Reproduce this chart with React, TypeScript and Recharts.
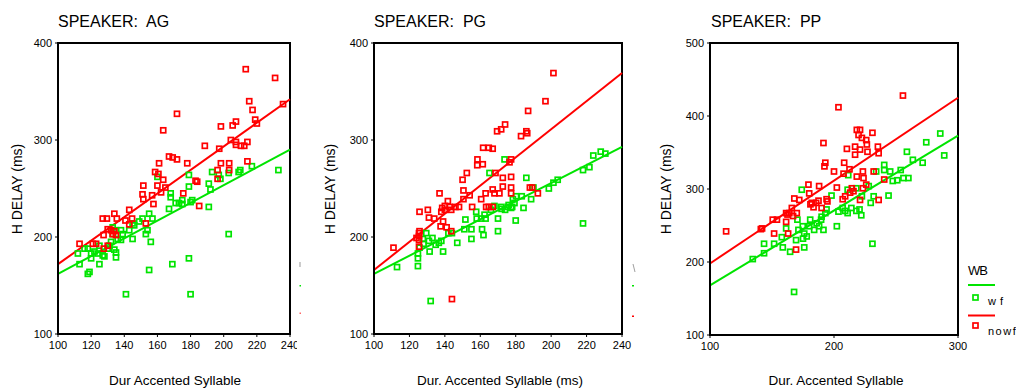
import React from "react";
import { ScatterChart, Scatter, XAxis, YAxis, ReferenceLine, ReferenceArea } from "recharts";

const FONT = '"Liberation Sans", Arial, Helvetica, sans-serif';
const RED = "#ff0000";
const GREEN = "#00e400";

// Panel titles / labels
const titles = ["SPEAKER:  AG", "SPEAKER:  PG", "SPEAKER:  PP"];
const xLabels = ["Dur Accented Syllable", "Dur. Accented Syllable (ms)", "Dur. Accented Syllable"];
const yLabel = "H DELAY (ms)";
const legendTitle = "WB";
const legendNames = ["w f", "nowf"];

// Tick values
const xTicksAP = [100, 120, 140, 160, 180, 200, 220, 240];
const yTicksAP = [100, 200, 300, 400];
const xTicksPP = [100, 200, 300];
const yTicksPP = [100, 200, 300, 400, 500];

// Speaker AG
const agWf: number[][] = [
  [112,183],[113,172],[118,188],[118,162],[119,164],[120,183],[120,178],[125,191],[125,172],[127,181],
  [130,188],[131,191],[133,203],[134,187],[135,179],[135,207],[136,198],[138,197],[139,203],[143,207],
  [145,214],[145,198],[149,216],[151,219],[153,203],[154,207],[156,195],[155,224],[157,219],[155,166],
  [141,141],[160,262],[167,229],[168,245],[168,241],[169,172],[171,235],[173,235],[175,238],[175,234],
  [179,264],[179,252],[180,236],[181,238],[179,178],[180,141],[191,231],[191,255],[192,249],[193,267],
  [198,260],[197,264],[203,203],[203,266],[209,267],[210,269],[217,273],[233,269],[138,207],[133,210],
  [135,184],[122,185],[128,180],[132,195],[146,212],[124,183],[116,188]
];
const agNowf: number[][] = [
  [113,193],[121,193],[123,193],[127,219],[129.5,219],[134,224],[135.5,219],[127.5,202],[130,208],[132,207],
  [133,203],[135,202],[127.6,188],[143,228],[140.7,217],[144.7,219],[143,213],[151,244],[151.5,253],[151.5,239],
  [157.6,234],[156.8,243],[153,214],[158.6,267],[161,276],[160.6,265],[160,253],[162.2,246],[163.5,259],[164.8,251],
  [163.5,310],[167,283],[169.2,282],[171.8,280],[171.8,327],[175.6,245],[178,276],[183,258],[184,257],[185.2,232],
  [188.6,294],[197.3,291],[198.3,276],[198.3,314],[196.3,269],[196.3,260],[203.3,276],[203.3,269],[204.3,300],[205.4,315],
  [207.4,319],[207.4,298],[207.4,295],[210.4,294],[212.4,294],[214.3,298],[214.3,278],[213.3,373],[215.4,340],[217.4,331],
  [219,321],[220,317],[231,364],[235.8,337],[134,206],[130,191]
];
const agFitWf: number[][] = [[100,162],[240,290]];
const agFitNowf: number[][] = [[100,172],[240,342]];

// Speaker PG
const pgWf: number[][] = [
  [113,169],[124.8,178],[124.8,183],[124.8,170],[125.7,189],[127.6,198],[129.5,204],[131,196],[131.4,185],[133,199],
  [134.8,192],[136.6,194],[139,185],[147,194],[151,208],[151.6,218],[155,198],[155,208],[157.7,226],[158,219],
  [160.5,219],[161,208],[161.8,202],[162.4,223],[163,219],[165.2,266],[170,219],[170,206],[171.8,231],[173.7,280],
  [175.5,231],[177.4,230],[178.4,239],[179.3,235],[180,217],[180.2,242],[183.4,242],[184.4,230],[186,261],[188.7,239],
  [190,251],[198.7,250],[201.3,256],[203.7,259],[218,214],[218,269],[221.6,272],[223.8,284],[228,288],[230.6,286],
  [132,134],[166,228],[168,232],[172,229],[174,228],[176,233],[178,231],[144,204],[128,193],[138,196],[142,204]
];
const pgNowf: number[][] = [
  [111,189],[125.4,197],[125.4,204],[125.4,201],[125.4,190],[125.7,206],[125.7,226],[130.4,228],[131,220],[134,219],
  [137,245],[137.6,211],[138,226],[138.5,230],[139,216],[140,232],[141,210],[141.7,237],[142.7,231],[143.6,228],
  [143.6,206],[146,231],[150,259],[150.5,248],[150.5,239],[152.4,266],[154,243],[155.4,231],[158.4,280],[158.3,274],
  [161.4,275],[161.6,292],[164.8,292],[167,291],[160.5,239],[163,245],[163.3,231],[164.8,231],[167,231],[167,249],
  [168,245],[168.6,266],[169.5,309],[171.8,311],[174,316],[172.7,261],[172.7,252],[170.8,245],[176.5,277],[177.4,280],
  [177.4,251],[177.4,245],[177.4,262],[183,304],[186,309],[186.5,307],[187,330],[188,251],[189.3,251],[192.5,245],
  [196.8,340],[201.3,369],[144,136],[140,228],[124,199],[148,231]
];
const pgFitWf: number[][] = [[100,162],[240,293]];
const pgFitNowf: number[][] = [[100,166],[240,369]];

// Speaker PP
const ppWf: number[][] = [
  [134.5,204],[143.6,212],[143.6,225],[151.7,225],[157.9,234],[158.7,220],[161.4,246],[164.6,214],[167.8,159],[169.4,230],
  [170.5,258],[171.3,244],[174,299],[174.8,249],[176,239],[176,220],[178,235],[180,249],[180.8,258],[184,244],
  [186,253],[188,249],[189.6,258],[191.5,244],[193,267],[194,272],[198,291],[202.3,249],[203.6,269],[207,274],
  [209,270],[211,267],[211.5,319],[218,270],[220.6,272],[222,264],[222.5,290],[228,304],[229.6,281],[231,225],
  [232,290],[234,324],[240.5,333],[240.5,326],[244,291],[245.3,324],[247.4,311],[251,312],[253.8,326],[256,315],
  [258.8,351],[260,315],[263.6,340],[271.5,336],[274.4,364],[285.7,376],[288.9,346],[214,274],[218,301],[211,299],
  [175,232],[190,262]
];
const ppNowf: number[][] = [
  [113,242],[141,245],[142,246],[150.6,258],[151.7,239],[154,258],[161.4,267],[162.5,265],[164,267],[161.4,255],
  [163,239],[166,274],[167,263],[168,287],[169.4,217],[170,267],[172,285],[179.4,306],[180,294],[182,281],
  [183.5,275],[185.6,281],[188,304],[190,274],[191.5,363],[192.3,331],[193,336],[194,286],[194.7,283],[200,324],
  [202.3,302],[203.6,412],[208.2,336],[207.7,321],[209,290],[210.4,355],[212.5,327],[214.4,301],[215.7,297],[217,358],
  [217,347],[218.4,317],[218.4,381],[221,381],[219.8,374],[221,354],[222.5,370],[223.3,324],[223.3,301],[223.8,315],
  [226,367],[226.5,361],[227,351],[231,377],[232,324],[235.4,358],[236,349],[236,285],[240.5,313],[255.6,428],
  [226,306],[221,285],[207,286],[187.5,284],[181,279],[213,295]
];
const ppFitWf: number[][] = [[100,168],[300,373]];
const ppFitNowf: number[][] = [[100,198],[300,425]];

const toPts = (a: number[][]) => a.map(([x, y]) => ({ x, y }));

const squareShape = (color: string) => (p: any) => {
  const { cx, cy } = p;
  if (cx == null || cy == null) return <g />;
  return <rect x={cx - 2.5} y={cy - 2.5} width={5} height={5} fill="none" stroke={color} strokeWidth={1.7} />;
};

type PanelProps = {
  left: number;
  width: number;
  margin: { top: number; right: number; bottom: number; left: number };
  yAxisWidth: number;
  xDomain: [number, number];
  yDomain: [number, number];
  xTicks: number[];
  yTicks: number[];
  wf: number[][];
  nowf: number[][];
  fitWf: number[][];
  fitNowf: number[][];
};

function Panel(props: PanelProps) {
  const { left, width, margin, yAxisWidth, xDomain, yDomain, xTicks, yTicks, wf, nowf, fitWf, fitNowf } = props;
  const tickStyle = { fill: "#000", fontSize: 11, fontFamily: FONT };
  return (
    <div style={{ position: "absolute", left, top: 0, width, height: 389, overflow: "hidden" }}>
      <ScatterChart width={width} height={389} margin={margin}>
        <XAxis
          type="number"
          dataKey="x"
          domain={xDomain}
          ticks={xTicks}
          interval={0}
          allowDataOverflow
          tickSize={3}
          tickMargin={4}
          height={30}
          axisLine={{ stroke: "#000", strokeWidth: 2 }}
          tickLine={{ stroke: "#000", strokeWidth: 1 }}
          tick={tickStyle}
        />
        <YAxis
          type="number"
          dataKey="y"
          domain={yDomain}
          ticks={yTicks}
          interval={0}
          allowDataOverflow
          width={yAxisWidth}
          tickSize={3}
          tickMargin={3}
          axisLine={{ stroke: "#000", strokeWidth: 2 }}
          tickLine={{ stroke: "#000", strokeWidth: 1 }}
          tick={tickStyle}
        />
        <ReferenceArea
          x1={xDomain[0]}
          x2={xDomain[1]}
          y1={yDomain[0]}
          y2={yDomain[1]}
          fill="none"
          fillOpacity={0}
          stroke="#000"
          strokeWidth={2}
          ifOverflow="visible"
        />
        <Scatter data={toPts(wf)} isAnimationActive={false} shape={squareShape(GREEN)} />
        <Scatter data={toPts(nowf)} isAnimationActive={false} shape={squareShape(RED)} />
        <ReferenceLine
          segment={[{ x: fitWf[0][0], y: fitWf[0][1] }, { x: fitWf[1][0], y: fitWf[1][1] }]}
          stroke={GREEN}
          strokeWidth={2}
          ifOverflow="visible"
        />
        <ReferenceLine
          segment={[{ x: fitNowf[0][0], y: fitNowf[0][1] }, { x: fitNowf[1][0], y: fitNowf[1][1] }]}
          stroke={RED}
          strokeWidth={2}
          ifOverflow="visible"
        />
      </ScatterChart>
    </div>
  );
}

export default function App() {
  const titleX = [58, 374, 711];
  const yLabelX = [22, 335, 671];
  const xLabelX = [175, 500, 836];
  const xLabelY = [385, 385, 385];
  return (
    <div style={{ position: "absolute", left: 0, top: 0, width: 1016, height: 389, background: "#fff", overflow: "hidden" }}>
      <Panel
        left={0}
        width={297}
        margin={{ top: 43, right: 7, bottom: 25, left: 18 }}
        yAxisWidth={40}
        xDomain={[100, 240]}
        yDomain={[100, 400]}
        xTicks={xTicksAP}
        yTicks={yTicksAP}
        wf={agWf}
        nowf={agNowf}
        fitWf={agFitWf}
        fitNowf={agFitNowf}
      />
      <Panel
        left={340}
        width={300}
        margin={{ top: 43, right: 18, bottom: 25, left: 4 }}
        yAxisWidth={30}
        xDomain={[100, 240]}
        yDomain={[100, 400]}
        xTicks={xTicksAP}
        yTicks={yTicksAP}
        wf={pgWf}
        nowf={pgNowf}
        fitWf={pgFitWf}
        fitNowf={pgFitNowf}
      />
      <Panel
        left={676}
        width={340}
        margin={{ top: 43, right: 58, bottom: 24, left: 4 }}
        yAxisWidth={30}
        xDomain={[100, 300]}
        yDomain={[100, 500]}
        xTicks={xTicksPP}
        yTicks={yTicksPP}
        wf={ppWf}
        nowf={ppNowf}
        fitWf={ppFitWf}
        fitNowf={ppFitNowf}
      />
      <svg
        width={1016}
        height={389}
        style={{ position: "absolute", left: 0, top: 0, pointerEvents: "none" }}
        fontFamily={FONT}
      >
        {titles.map((t, i) => (
          <text key={"t" + i} x={titleX[i]} y={27} fontSize={16} fill="#000" style={{ whiteSpace: "pre" }}>
            {t}
          </text>
        ))}
        {yLabelX.map((x, i) => (
          <text
            key={"y" + i}
            x={x}
            y={189}
            fontSize={14}
            fill="#000"
            textAnchor="middle"
            transform={`rotate(-90 ${x} 189)`}
          >
            {yLabel}
          </text>
        ))}
        {xLabels.map((t, i) => (
          <text key={"x" + i} x={xLabelX[i]} y={xLabelY[i]} fontSize={13.5} fill="#000" textAnchor="middle">
            {t}
          </text>
        ))}
        {/* legend */}
        <text x={968} y={275} fontSize={13} fill="#000" letterSpacing={-1}>
          {legendTitle}
        </text>
        <line x1={968} x2={995} y1={285} y2={285} stroke={GREEN} strokeWidth={2} />
        <rect x={973} y={295} width={5} height={5} fill="none" stroke={GREEN} strokeWidth={1.7} />
        <text x={988} y={305} fontSize={11} fill="#000" letterSpacing={0.5}>
          {legendNames[0]}
        </text>
        <line x1={968} x2={995} y1={315.5} y2={315.5} stroke={RED} strokeWidth={2} />
        <rect x={973} y={323} width={5} height={5} fill="none" stroke={RED} strokeWidth={1.7} />
        <text x={988} y={335} fontSize={11} fill="#000" letterSpacing={1.5}>
          {legendNames[1]}
        </text>
        {/* clipped legend remnants beside panels 1 and 2 */}
        <rect x={299.5} y={262} width={1} height={5} fill="#999" />
        <rect x={299.5} y={285} width={1.5} height={1.5} fill={GREEN} />
        <rect x={299.5} y={312.5} width={1.5} height={1.5} fill={RED} opacity={0.6} />
        <line x1={633} y1={264} x2={635} y2={272} stroke="#888" strokeWidth={0.8} />
        <rect x={632} y={285} width={2} height={1.5} fill={GREEN} />
        <rect x={632} y={315.5} width={2} height={1.5} fill={RED} />
      </svg>
    </div>
  );
}
